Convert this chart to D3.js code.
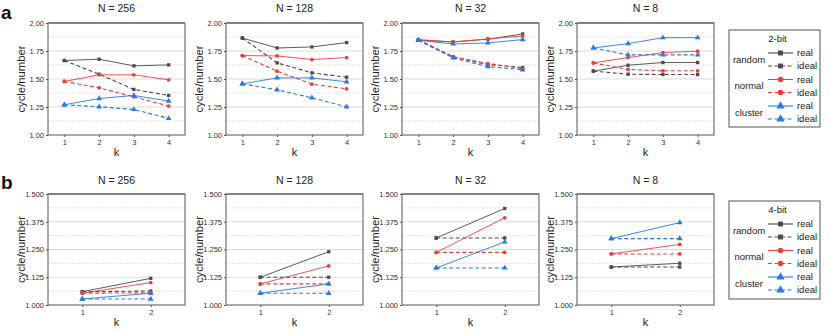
<!DOCTYPE html>
<html>
<head>
<meta charset="utf-8">
<script src="https://cdn.jsdelivr.net/npm/d3@7"></script>
<style>
  body { margin: 0; background: #fff; }
  svg { font-family: "Liberation Sans", Arial, sans-serif; }
</style>
</head>
<body>
<div id="chart"></div>
<script>
// Chart data
var panelTitles = ["N = 256", "N = 128", "N = 32", "N = 8"];
var kTop = [1, 2, 3, 4];
var kBottom = [1, 2];
var yTicksTop = [1.00, 1.25, 1.50, 1.75, 2.00];
var yTicksBottom = [1.000, 1.125, 1.250, 1.375, 1.500];

// 2-bit (row a), one array per panel, order: N=256, 128, 32, 8
var randomReal2 = [[1.665, 1.677, 1.617, 1.626], [1.866, 1.777, 1.786, 1.825], [1.846, 1.831, 1.855, 1.902], [1.570, 1.623, 1.647, 1.647]];
var randomIdeal2 = [[1.665, 1.543, 1.407, 1.353], [1.866, 1.644, 1.555, 1.516], [1.846, 1.697, 1.629, 1.602], [1.570, 1.543, 1.540, 1.540]];
var normalReal2 = [[1.478, 1.537, 1.537, 1.493], [1.709, 1.706, 1.674, 1.691], [1.852, 1.831, 1.858, 1.884], [1.644, 1.691, 1.736, 1.748]];
var normalIdeal2 = [[1.478, 1.421, 1.341, 1.258], [1.709, 1.570, 1.454, 1.412], [1.852, 1.700, 1.638, 1.593], [1.644, 1.585, 1.573, 1.573]];
var clusterReal2 = [[1.270, 1.326, 1.353, 1.303], [1.457, 1.510, 1.510, 1.475], [1.846, 1.813, 1.822, 1.852], [1.777, 1.816, 1.869, 1.869]];
var clusterIdeal2 = [[1.270, 1.252, 1.228, 1.148], [1.457, 1.404, 1.332, 1.252], [1.846, 1.688, 1.611, 1.582], [1.777, 1.715, 1.715, 1.715]];

// 4-bit (row b)
var randomReal4 = [[1.060, 1.120], [1.125, 1.240], [1.302, 1.435], [1.171, 1.188]];
var randomIdeal4 = [[1.060, 1.063], [1.125, 1.125], [1.302, 1.302], [1.171, 1.171]];
var normalReal4 = [[1.053, 1.101], [1.095, 1.176], [1.237, 1.393], [1.230, 1.273]];
var normalIdeal4 = [[1.053, 1.055], [1.095, 1.095], [1.237, 1.237], [1.230, 1.230]];
var clusterReal4 = [[1.027, 1.053], [1.053, 1.095], [1.167, 1.284], [1.299, 1.371]];
var clusterIdeal4 = [[1.027, 1.027], [1.053, 1.053], [1.167, 1.167], [1.299, 1.299]];

var groupNames = ["random", "normal", "cluster"];
var colors = { random: "#4a4a4a", normal: "#f23d3d", cluster: "#2878e6" };
var symbols = { random: d3.symbolSquare, normal: d3.symbolCircle, cluster: d3.symbolTriangle };

var svgWidth = 830;
var svgHeight = 332;
var panelLefts = [48, 226, 402, 577];
var panelWidth = 137;

var svg = d3.select("#chart")
    .append("svg")
    .attr("width", svgWidth)
    .attr("height", svgHeight);

function drawRow(cfg) {
    var yScale = d3.scaleLinear().domain(cfg.yDomain).range([cfg.bottom, cfg.top]);
    var step = cfg.yTicks[1] - cfg.yTicks[0];

    panelTitles.forEach((title, p) => {
        var left = panelLefts[p];
        var xScale = d3.scaleLinear().domain(cfg.xDomain).range([left, left + panelWidth]);
        var g = svg.append("g");

        // minor dotted grid
        cfg.yTicks.slice(0, -1).forEach(t => {
            g.append("line")
                .attr("x1", left).attr("x2", left + panelWidth)
                .attr("y1", yScale(t + step / 2)).attr("y2", yScale(t + step / 2))
                .attr("stroke", "#cfcfcf").attr("stroke-width", 0.8)
                .attr("stroke-dasharray", "1.5,1.5");
        });
        // major grid
        cfg.yTicks.slice(1, -1).forEach(t => {
            g.append("line")
                .attr("x1", left).attr("x2", left + panelWidth)
                .attr("y1", yScale(t)).attr("y2", yScale(t))
                .attr("stroke", "#dcdcdc").attr("stroke-width", 1.2);
        });

        // axes
        var leftAxis = d3.axisLeft(yScale).tickValues(cfg.yTicks)
            .tickFormat(d3.format(cfg.fmt)).tickSize(2).tickPadding(2);
        var ax = g.append("g").attr("transform", `translate(${left},0)`).call(leftAxis);
        var bottomAxis = d3.axisBottom(xScale).tickValues(cfg.ks)
            .tickFormat(d3.format("d")).tickSize(2).tickPadding(3);
        var bx = g.append("g").attr("transform", `translate(0,${cfg.bottom})`).call(bottomAxis);
        [ax, bx].forEach(a => {
            a.select(".domain").remove();
            a.selectAll("text").attr("font-size", 7.5).attr("fill", "#333");
            a.selectAll(".tick line").attr("stroke", "#555");
        });

        // frame
        g.append("rect")
            .attr("x", left).attr("y", cfg.top)
            .attr("width", panelWidth).attr("height", cfg.bottom - cfg.top)
            .attr("fill", "none").attr("stroke", "#555").attr("stroke-width", 1);
        g.append("line")
            .attr("x1", left).attr("x2", left + panelWidth)
            .attr("y1", cfg.top).attr("y2", cfg.top)
            .attr("stroke", "#777").attr("stroke-width", 1.6);

        // series
        groupNames.forEach(name => {
            [["ideal", "4,2.5"], ["real", null]].forEach(([kind, dash]) => {
                var vals = cfg.series[name][kind][p];
                var pts = cfg.ks.map((k, i) => [xScale(k), yScale(vals[i])]);
                g.append("path")
                    .attr("d", d3.line()(pts))
                    .attr("fill", "none")
                    .attr("stroke", colors[name])
                    .attr("stroke-width", dash ? 1.1 : 0.9)
                    .attr("stroke-dasharray", dash);
                g.selectAll(null).data(pts).enter().append("path")
                    .attr("transform", d => `translate(${d[0]},${d[1]})`)
                    .attr("d", d3.symbol().type(symbols[name]).size(name === "cluster" ? 14 : 11))
                    .attr("fill", colors[name]);
            });
        });

        // titles
        g.append("text")
            .attr("x", left + panelWidth / 2).attr("y", cfg.titleY)
            .attr("text-anchor", "middle").attr("font-size", 10.5).attr("fill", "#222")
            .text(title);
        g.append("text")
            .attr("x", left + panelWidth / 2).attr("y", cfg.kLabelY)
            .attr("text-anchor", "middle").attr("font-size", 11).attr("fill", "#222")
            .text("k");
        g.append("text")
            .attr("transform", `translate(${left - 23},${(cfg.top + cfg.bottom) / 2}) rotate(-90)`)
            .attr("text-anchor", "middle").attr("font-size", 11.3).attr("fill", "#222")
            .text("cycle/number");
    });

    // panel letter
    svg.append("text")
        .attr("x", 1).attr("y", cfg.letterY)
        .attr("font-size", 19).attr("font-weight", "bold").attr("fill", "#111")
        .text(cfg.letter);

    // legend
    var lg = svg.append("g");
    var lx = 729, lw = 91;
    lg.append("rect")
        .attr("x", lx).attr("y", cfg.legTop)
        .attr("width", lw).attr("height", cfg.legBottom - cfg.legTop)
        .attr("fill", "#fff").attr("stroke", "#555").attr("stroke-width", 1);
    lg.append("text")
        .attr("x", lx + lw / 2 + 3).attr("y", cfg.legTop + 12)
        .attr("text-anchor", "middle").attr("font-size", 9.5).attr("fill", "#222")
        .text(cfg.bits);
    groupNames.forEach((name, gi) => {
        var r1 = cfg.legTop + 23 + gi * 26.5;
        var r2 = r1 + 13;
        lg.append("text")
            .attr("x", 749).attr("y", (r1 + r2) / 2 + 3)
            .attr("text-anchor", "middle").attr("font-size", 9.5).attr("fill", "#222")
            .text(name);
        [[r1, "real", null], [r2, "ideal", "4,2.5"]].forEach(([ry, lab, dash]) => {
            lg.append("line")
                .attr("x1", 768).attr("x2", 793).attr("y1", ry).attr("y2", ry)
                .attr("stroke", colors[name]).attr("stroke-width", 1.1)
                .attr("stroke-dasharray", dash);
            lg.append("path")
                .attr("transform", `translate(780.5,${ry})`)
                .attr("d", d3.symbol().type(symbols[name]).size(name === "cluster" ? 30 : 24))
                .attr("fill", colors[name]);
            lg.append("text")
                .attr("x", 797).attr("y", ry + 3)
                .attr("font-size", 9.5).attr("fill", "#222")
                .text(lab);
        });
    });
}

drawRow({
    top: 23, bottom: 135, yDomain: [1, 2], yTicks: yTicksTop, fmt: ".2f",
    xDomain: [0.53, 4.47], ks: kTop, titleY: 12, kLabelY: 156, letter: "a", letterY: 19,
    bits: "2-bit", legTop: 30, legBottom: 127,
    series: {
        random: { real: randomReal2, ideal: randomIdeal2 },
        normal: { real: normalReal2, ideal: normalIdeal2 },
        cluster: { real: clusterReal2, ideal: clusterIdeal2 }
    }
});

drawRow({
    top: 194, bottom: 305, yDomain: [1, 1.5], yTicks: yTicksBottom, fmt: ".3f",
    xDomain: [0.5, 2.5], ks: kBottom, titleY: 184, kLabelY: 326, letter: "b", letterY: 189,
    bits: "4-bit", legTop: 201, legBottom: 299,
    series: {
        random: { real: randomReal4, ideal: randomIdeal4 },
        normal: { real: normalReal4, ideal: normalIdeal4 },
        cluster: { real: clusterReal4, ideal: clusterIdeal4 }
    }
});
</script>
</body>
</html>
